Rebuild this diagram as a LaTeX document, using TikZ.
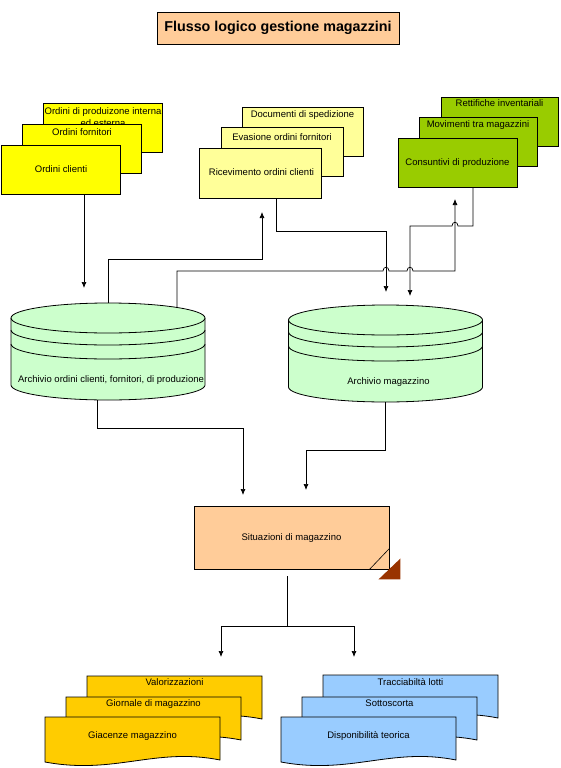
\documentclass[tikz,border=0pt]{standalone}
\usepackage{fontspec}
\setmainfont{Liberation Sans}
\usetikzlibrary{arrows.meta,positioning}

\definecolor{ordyellow}{HTML}{FFFF00}
\definecolor{docyellow}{HTML}{FFFF99}
\definecolor{movgreen}{HTML}{99CC00}
\definecolor{archgreen}{HTML}{CCFFCC}
\definecolor{peach}{HTML}{FFCC99}
\definecolor{foldbrown}{HTML}{993300}
\definecolor{repgold}{HTML}{FFCC00}
\definecolor{repblue}{HTML}{99CCFF}

\tikzset{
  card/.style={draw, line width=0.9pt, minimum width=119pt, minimum height=49pt, inner sep=0pt},
  txt/.style={font=\fontsize{9.5}{12}\selectfont, inner sep=0pt, text height=7pt, text depth=2pt},
  flow/.style={line width=0.7pt, -{Latex[length=6pt,width=5pt]}},
  pics/archive/.style={code={
    \draw[fill=archgreen, line width=0.8pt] (-97,0) -- (-97,67)
      arc[start angle=180, end angle=0, x radius=97, y radius=15] -- (97,0)
      arc[start angle=0, end angle=-180, x radius=97, y radius=15] -- cycle;
    \draw[line width=0.8pt] (-97,0) arc[start angle=180, end angle=0, x radius=97, y radius=15];
    \draw[line width=0.8pt] (-97,12) arc[start angle=180, end angle=0, x radius=97, y radius=15];
    \draw[line width=0.8pt] (-97,26) arc[start angle=180, end angle=0, x radius=97, y radius=15];
    \node[txt] (-label) at (3,61.5) {#1};
    \coordinate (-top) at (0,-15);
    \coordinate (-bot) at (0,82);
  }},
  pics/report/.style n args={3}{code={
    \draw[fill=#1, line width=0.8pt] (0,0) -- (175,0) -- (175,43)
      .. controls (110,30) and (70,58) .. (0,45) -- cycle;
    \node[txt] (-label) at (87.5,#3) {#2};
  }}
}

\begin{document}
\begin{tikzpicture}[x=1pt, y=-1pt]
\useasboundingbox (0,0) rectangle (560,768);

% title
\node[draw, fill=peach, line width=0.9pt, minimum width=242pt, minimum height=32pt,
  font=\bfseries\fontsize{14.3}{16}\selectfont] (title) at (278,28) {Flusso logico gestione magazzini};

% ordini
\node[card, fill=ordyellow] (ordprod) at (103,127.5) {};
\node[font=\fontsize{9.5}{12}\selectfont, inner sep=0pt, align=center, below=4.5pt of ordprod.north] (ordprodtxt)
  {Ordini di produizone interna\\ed esterna};
\node[card, fill=ordyellow] (ordforn) at (82,148.5) {};
\node[txt, below=5pt of ordforn.north] (ordforntxt) {Ordini fornitori};
\node[card, fill=ordyellow, txt] (ordcli) at (61,169.5) {Ordini clienti};

% documenti
\node[card, fill=docyellow, minimum width=121pt] (docsped) at (302.5,131.5) {};
\node[txt, below=3.5pt of docsped.north] (docspedtxt) {Documenti di spedizione};
\node[card, fill=docyellow, minimum width=122pt] (evas) at (282,151.5) {};
\node[txt, below=6.5pt of evas.north] (evastxt) {Evasione ordini fornitori};
\node[card, fill=docyellow, minimum width=122pt, minimum height=50pt, txt] (ricev) at (260,173) {\hspace{3pt}Ricevimento ordini clienti};

% movimenti
\node[card, fill=movgreen, minimum width=117pt] (rettif) at (499.5,121.5) {};
\node[txt, below=3pt of rettif.north] (rettiftxt) {Rettifiche inventariali};
\node[card, fill=movgreen, minimum width=118pt] (movim) at (478,141.5) {};
\node[txt, below=3.5pt of movim.north] (movimtxt) {Movimenti tra magazzini};
\node[card, fill=movgreen, txt] (consunt) at (457.5,162.5) {Consuntivi di produzione};

% archivi
\pic (archord) at (108,318) {archive={Archivio ordini clienti, fornitori, di produzione}};
\pic (armag) at (385.5,320) {archive={Archivio magazzino}};
\coordinate (ordside) at (177,307.5);
\coordinate (ordout) at (97,400);

% situazioni
\node[draw, fill=peach, line width=0.9pt, minimum width=195pt, minimum height=63pt, txt] (sit)
  at (291.5,537.5) {Situazioni di magazzino};
\draw[line width=0.6pt] ([xshift=-20pt]sit.south east) -- ([yshift=21pt]sit.south east);
\fill[foldbrown] ([xshift=-11pt,yshift=-10pt]sit.south east) -- ([xshift=11pt,yshift=-10pt]sit.south east)
  -- ([xshift=11pt,yshift=11pt]sit.south east) -- cycle;

% stampe
\pic (valor) at (87,676) {report={repgold}{Valorizzazioni}{7}};
\pic (giorn) at (66,697) {report={repgold}{Giornale di magazzino}{7}};
\pic (giac) at (45,717) {report={repgold}{Giacenze magazzino}{18.5}};
\pic (tracc) at (323,675) {report={repblue}{Tracciabiltà lotti}{7.5}};
\pic (sotto) at (302,697) {report={repblue}{Sottoscorta}{7}};
\pic (dispo) at (281,717) {report={repblue}{Disponibilità teorica}{18.5}};

% arrow ends
\coordinate (inord) at (84,288);
\coordinate (inric) at (262,212);
\coordinate (incons) at (455,199);
\coordinate (inmagA) at (386,292);
\coordinate (inmagB) at (410,296);
\coordinate (insitA) at (243,495);
\coordinate (insitB) at (306,490);
\coordinate (split) at (287,626);
\coordinate (inval) at (221,657);
\coordinate (indisp) at (354,657);

% flussi
\draw[flow] (ordcli.south -| inord) -- (inord);
\draw[flow] (archord-top) -- ++(0,-44) -| (inric);
\draw[flow] (ordside) -- (177,271) -- (383,271) .. controls (383,266) and (389,266) .. (389,271)
  -- (407,271) .. controls (407,266) and (413,266) .. (413,271) -- (455,271) -- (incons);
\draw[flow] ([xshift=15.5pt]consunt.south) -- (473,226) -- (458,226)
  .. controls (458,221) and (452,221) .. (452,226) -- (410,226) -- (inmagB);
\draw[flow] ([xshift=16pt]ricev.south) -- ++(0,33) -| (inmagA);
\draw[flow] (ordout) -- ++(0,28) -| (insitA);
\draw[flow] (armag-bot) -- ++(0,48) -| (insitB);
\draw[line width=0.7pt] ([xshift=-4.5pt,yshift=-7pt]sit.south) -- (split);
\draw[flow] (split) -| (inval);
\draw[flow] (split) -| (indisp);
\end{tikzpicture}
\end{document}
